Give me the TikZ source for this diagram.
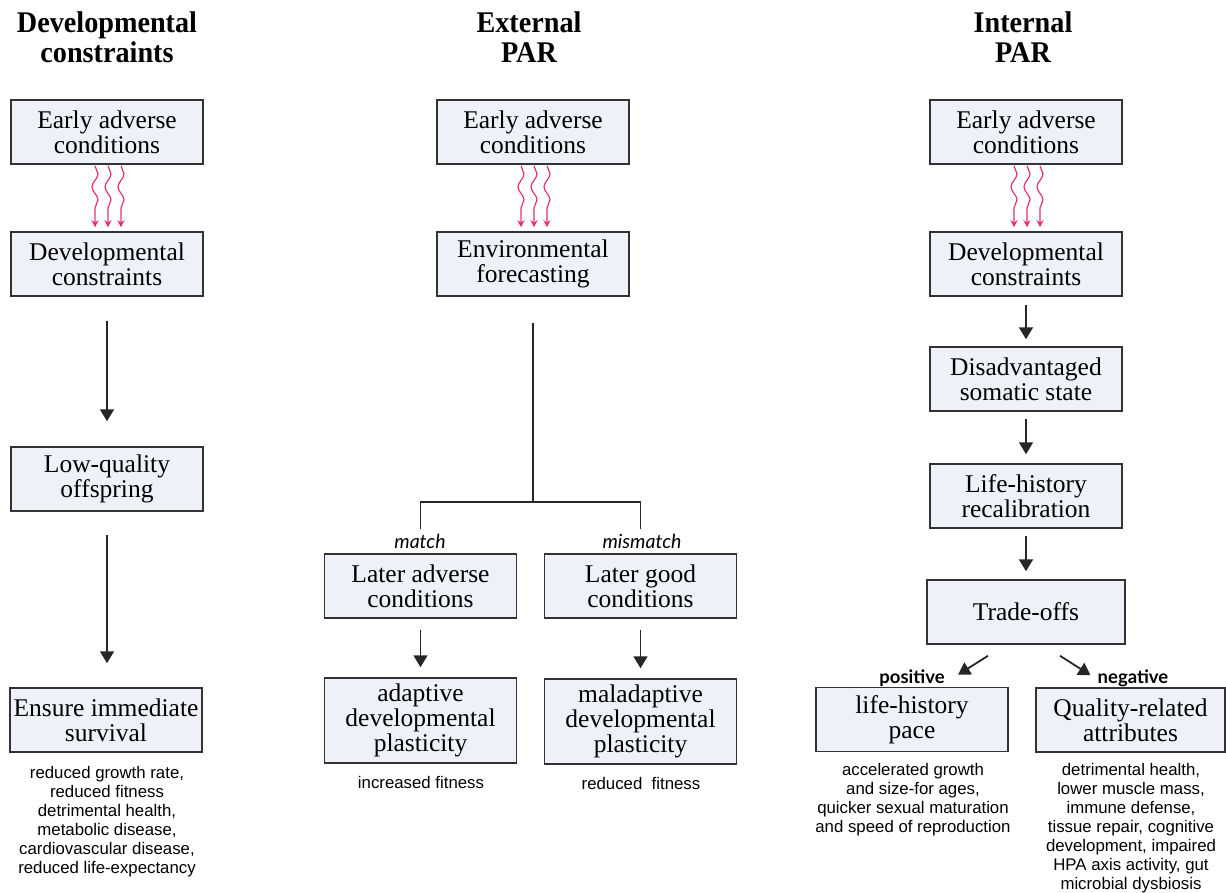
\documentclass[tikz,border=0pt]{standalone}
\usepackage{fontspec}
\setmainfont{Liberation Serif}
\newfontfamily\notefont{Liberation Sans}
\newfontfamily\tagfont{Lato}
\newfontfamily\headfont[FakeStretch=0.94]{Liberation Serif}
\usetikzlibrary{arrows.meta, decorations.pathmorphing}
\definecolor{boxFill}{HTML}{EEF2F8}
\definecolor{boxLine}{HTML}{333333}
\definecolor{wavePink}{HTML}{E8307A}
\begin{document}
\begin{tikzpicture}[x=1pt, y=-1pt,
                    boxStyle/.style={draw=boxLine, fill=boxFill, line width=1.5pt, align=center, inner sep=0pt, minimum width=192pt, minimum height=64pt, font=\fontsize{25.5}{25}\selectfont},
                    headStyle/.style={align=center, inner sep=0pt, font=\headfont\bfseries\fontsize{30}{30}\selectfont},
                    noteStyle/.style={align=center, inner sep=0pt, font=\notefont\fontsize{16.8}{19}\selectfont},
                    tagStyle/.style={inner sep=0pt, font=\tagfont\fontsize{19}{19}\selectfont},
                    arrowStyle/.style={draw=black!85, line width=1.8pt, -{Triangle[length=12pt, width=14pt]}},
                    waveStyle/.style={draw=wavePink, line width=1.2pt, -{Stealth[length=7pt, width=7pt]}, decorate, decoration={snake, amplitude=3pt, segment length=26pt, post length=7pt}}]
                    \useasboundingbox (0,0) rectangle (1226,892);

                    % headings
                    \node[headStyle](h1) at (107, 37) {Developmental\\constraints};
                    \node[headStyle](h2) at (529, 37) {External\\PAR};
                    \node[headStyle](h3) at (1023, 37) {Internal\\PAR};

                    % developmental constraints
                    \node[boxStyle](ea1) at (107, 132) {Early adverse\\conditions};
                    \node[boxStyle](dc1) at (107, 264) {Developmental\\constraints};
                    \node[boxStyle](lq) at (107, 479) {Low-quality\\offspring};
                    \node[boxStyle](eis) at (106, 720) {Ensure immediate\\survival};
                    \node[noteStyle](n1) at (107, 822) {reduced growth rate,\\reduced fitness\\detrimental health,\\metabolic disease,\\cardiovascular disease,\\reduced life-expectancy};

                    % external PAR
                    \node[boxStyle](ea2) at (533, 132) {Early adverse\\conditions};
                    \node[boxStyle](ef) at (533, 264) {Environmental\\forecasting};
                    \node[boxStyle](la) at (420.5, 586) {Later adverse\\conditions};
                    \node[boxStyle](lg) at (640.5, 586) {Later good\\conditions};
                    \node[boxStyle, minimum height=85pt](ad) at (420.5, 720.5) {adaptive\\developmental\\plasticity};
                    \node[boxStyle, minimum height=85pt](mal) at (640.5, 721.5) {maladaptive\\developmental\\plasticity};
                    \node[tagStyle, font=\tagfont\itshape\fontsize{19.5}{19}\selectfont](mt) at (420, 541) {match};
                    \node[tagStyle, font=\tagfont\itshape\fontsize{19.5}{19}\selectfont](mm) at (642, 541) {mismatch};
                    \node[noteStyle](n2) at (421, 782) {increased fitness};
                    \node[noteStyle](n3) at (641, 783) {reduced\ \ fitness};
                    \coordinate (split) at (533, 502);

                    % internal PAR
                    \node[boxStyle](ea3) at (1026, 132) {Early adverse\\conditions};
                    \node[boxStyle](dc3) at (1026, 264) {Developmental\\constraints};
                    \node[boxStyle](ds) at (1026, 379) {Disadvantaged\\somatic state};
                    \node[boxStyle](lh) at (1026, 496) {Life-history\\recalibration};
                    \node[boxStyle, minimum width=198pt](to) at (1026, 612) {Trade-offs};
                    \node[boxStyle](lp) at (912, 719.5) {life-history\\pace};
                    \node[boxStyle, minimum width=189pt](qr) at (1130.5, 720) {Quality-related\\attributes};
                    \node[tagStyle, font=\tagfont\bfseries\fontsize{18.5}{19}\selectfont](pos) at (912, 678) {positive};
                    \node[tagStyle, font=\tagfont\bfseries\fontsize{18.5}{19}\selectfont](neg) at (1133, 678) {negative};
                    \node[noteStyle](n4) at (913, 800) {accelerated growth\\and size-for ages,\\quicker sexual maturation\\and speed of reproduction};
                    \node[noteStyle](n5) at (1131, 828) {detrimental health,\\lower muscle mass,\\immune defense,\\tissue repair, cognitive\\development, impaired\\HPA axis activity, gut\\microbial dysbiosis};

                    % wavy arrows
                    \foreach \a/\b in {ea1/dc1, ea2/ef, ea3/dc3} {
                        \foreach \dx in {-12, 1, 14} {
                            \draw[waveStyle] ([xshift=\dx pt, yshift=-1pt]\a.south) -- ([xshift=\dx pt, yshift=4pt]\b.north);
                        }
                    }

                    \draw[arrowStyle, shorten <=24pt, shorten >=25pt] (dc1) -- (lq);
                    \draw[arrowStyle, shorten <=23pt, shorten >=24pt] (lq.south) -- (lq.south |- eis.north);

                    \draw[draw=black!85, line width=1.5pt] ([yshift=-26pt]ef.south) -- (split);
                    \draw[draw=black!85, line width=1.5pt] ([yshift=24pt]la.north) -- (la.north |- split) -- (lg.north |- split) -- ([yshift=24pt]lg.north);
                    \draw[arrowStyle, shorten <=11pt, shorten >=10pt] (la) -- (ad);
                    \draw[arrowStyle, shorten <=11pt, shorten >=10pt] (lg) -- (mal);

                    \draw[arrowStyle, shorten <=8pt, shorten >=7pt] (dc3) -- (ds);
                    \draw[arrowStyle, shorten <=7pt, shorten >=9pt] (ds) -- (lh);
                    \draw[arrowStyle, shorten <=7pt, shorten >=8pt] (lh) -- (to);
                    \draw[arrowStyle] ([xshift=-38pt, yshift=-11pt]to.south) -- ([xshift=46pt, yshift=12pt]lp.north);
                    \draw[arrowStyle] ([xshift=34pt, yshift=-11pt]to.south) -- ([xshift=-40pt, yshift=12pt]qr.north);
                \end{tikzpicture}
\end{document}
